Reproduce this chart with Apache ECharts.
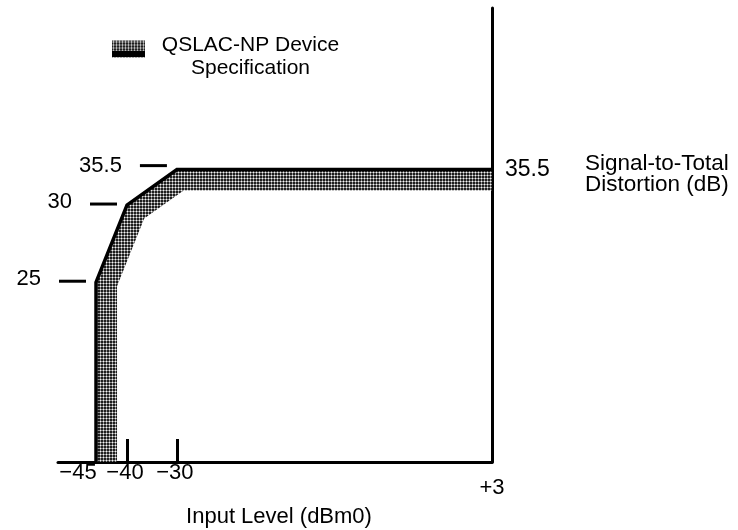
<!DOCTYPE html>
<html><head><meta charset="utf-8">
<script src="https://cdn.jsdelivr.net/npm/echarts@6/dist/echarts.min.js"></script>
<style>html,body{margin:0;padding:0;background:#fff}#c{width:738px;height:530px}</style>
</head><body><div id="c"></div>
<script>
// ---------- data ----------
const inputLevel = [-45, -40, -30, 3];     // dBm0, corners of the spec limit
const minSTD = [25, 30, 35.5, 35.5];       // dB, signal-to-total distortion limit
const xTickValues = [-45, -40, -30, 3];
const xTickText = ['\u221245', '\u221240', '\u221230', '+3'];
const xTickMarks = [-40, -30];
const leftTickValues = [25, 30, 35.5];
const leftTickText = ['25', '30', '35.5'];
const rightTickValues = [35.5];
const rightTickText = ['35.5'];
const seriesName = 'QSLAC-NP Device Specification';

// ---------- layout: the figure is not drawn to scale ----------
// where each value sits along its axis (axis runs 0..100)
const xStops = { v: [-45, -40, -30, 3], at: [8.76, 15.9, 27.4, 100] };
const yStops = { v: [0, 25, 30, 35.5], at: [0, 39.6, 56.6, 64.4] };
const FONT = 'Liberation Sans, Arial, Helvetica, sans-serif';
const FS = 22;
const BAND = 21;

function interp(s, val) {
  const v = s.v, a = s.at;
  if (val <= v[0]) return a[0] + (val - v[0]) * (a[1] - a[0]) / (v[1] - v[0]);
  for (let i = 1; i < v.length; i++) {
    if (val <= v[i]) return a[i-1] + (val - v[i-1]) * (a[i] - a[i-1]) / (v[i] - v[i-1]);
  }
  const n = v.length - 1;
  return a[n] + (val - v[n]) * (a[n] - a[n-1]) / (v[n] - v[n-1]);
}
const xPos = v => interp(xStops, v);
const yPos = v => interp(yStops, v);

function makePattern() {
  const c = document.createElement('canvas'); c.width = 3; c.height = 3;
  const ctx = c.getContext('2d');
  const img = ctx.createImageData(3, 3);
  const vals = [30, 140, 30, 140, 245, 140, 30, 140, 30];
  for (let i = 0; i < 9; i++) { img.data[i*4] = img.data[i*4+1] = img.data[i*4+2] = vals[i]; img.data[i*4+3] = 255; }
  ctx.putImageData(img, 0, 0);
  return c;
}
const hatch = { image: makePattern(), repeat: 'repeat' };

function offsetLine(P, d) {
  const n = [];
  for (let i = 0; i < P.length - 1; i++) {
    let dx = P[i+1][0] - P[i][0], dy = P[i+1][1] - P[i][1];
    const L = Math.hypot(dx, dy) || 1; dx /= L; dy /= L;
    n.push([-dy, dx]);
  }
  const Q = [];
  Q.push([P[0][0] + d*n[0][0], P[0][1] + d*n[0][1]]);
  for (let i = 1; i < P.length - 1; i++) {
    const a = n[i-1], b = n[i];
    const k = 1 + a[0]*b[0] + a[1]*b[1];
    Q.push([P[i][0] + d*(a[0]+b[0])/k, P[i][1] + d*(a[1]+b[1])/k]);
  }
  const m = n[n.length-1];
  Q.push([P[P.length-1][0] + d*m[0], P[P.length-1][1] + d*m[1]]);
  return Q;
}

const chart = echarts.init(document.getElementById('c'), null, { renderer: 'canvas' });
const option = {
  backgroundColor: '#fff',
  animation: false,
  textStyle: { fontFamily: FONT, color: '#000' },
  grid: { left: 58, right: 246, top: 8, bottom: 68, containLabel: false, outerBoundsMode: 'none' },
  legend: {
    left: 112, top: 35, padding: 0,
    itemWidth: 33, itemHeight: 17, icon: 'rect',
    selectedMode: false,
    data: [seriesName],
    formatter: () => '{a|QSLAC-NP Device}\n{b|Specification}',
    textStyle: {
      fontFamily: FONT, color: '#000', fontSize: 21, padding: [16, 0, 0, 0],
      rich: {
        a: { width: 201, align: 'center', fontSize: 21, lineHeight: 23, fontFamily: FONT },
        b: { width: 201, align: 'center', fontSize: 21, lineHeight: 23, fontFamily: FONT }
      }
    }
  },
  xAxis: {
    type: 'value', min: 0, max: 100,
    name: 'Input Level (dBm0)', nameLocation: 'middle', nameGap: 44,
    nameTextStyle: { fontSize: FS, fontFamily: FONT, color: '#000', padding: [0, 0, 0, 8] },
    axisLine: { show: true, onZero: false, lineStyle: { color: '#000', width: 3 } },
    axisTick: { show: true, inside: true, length: 23, customValues: xTickMarks.map(xPos), lineStyle: { color: '#000', width: 3 } },
    axisLabel: {
      show: true, margin: 0, customValues: xTickValues.map(xPos),
      fontSize: FS, fontFamily: FONT, color: '#000',
      formatter: (val) => {
        let bi = 0, bd = 1e9;
        xTickValues.forEach((v, i) => { const d = Math.abs(xPos(v) - val); if (d < bd) { bd = d; bi = i; } });
        const key = bi === 0 ? 'first' : (bi === xTickValues.length - 1 ? 'last' : 'mid');
        return '{' + key + '|' + xTickText[bi] + '}';
      },
      rich: {
        first: { fontSize: FS, fontFamily: FONT, padding: [0, 36, 0, 0] },
        mid: { fontSize: FS, fontFamily: FONT, padding: [0, 4, 0, 0] },
        last: { fontSize: FS, fontFamily: FONT, padding: [15, 0, 0, 0] }
      }
    },
    splitLine: { show: false }
  },
  yAxis: {
    type: 'value', min: 0, max: 100, position: 'right',
    axisLine: { show: true, onZero: false, lineStyle: { color: '#000', width: 3 } },
    axisTick: { show: false },
    axisLabel: {
      show: true, margin: 13, customValues: rightTickValues.map(yPos),
      fontSize: 23, fontFamily: FONT, color: '#000',
      formatter: (val) => {
        let bi = 0, bd = 1e9;
        rightTickValues.forEach((v, i) => { const d = Math.abs(yPos(v) - val); if (d < bd) { bd = d; bi = i; } });
        return rightTickText[bi];
      }
    },
    splitLine: { show: false }
  },
  graphic: [
    { type: 'text', left: 585, top: 152, style: { text: 'Signal-to-Total\nDistortion (dB)', fontSize: 22.5, lineHeight: 21, fontFamily: FONT, fill: '#000' } },
    { type: 'rect', z: 100, shape: { x: 112, y: 51, width: 33, height: 6 }, style: { fill: '#000' } }
  ],
  series: [{
    type: 'custom', name: seriesName, coordinateSystem: 'cartesian2d',
    itemStyle: { color: hatch },
    data: inputLevel.map((x, i) => [xPos(x), yPos(minSTD[i])]),
    encode: { x: 0, y: 1 },
    renderItem: function (params, api) {
      if (params.dataIndex !== 0) return null;
      const pts = [api.coord([xPos(inputLevel[0]), yPos(yStops.v[0])])];
      inputLevel.forEach((x, i) => pts.push(api.coord([xPos(x), yPos(minSTD[i])])));
      const inner = offsetLine(pts, BAND);
      const poly = pts.concat(inner.slice().reverse());
      const children = [
        { type: 'polygon', shape: { points: poly }, style: { fill: hatch, stroke: null } },
        { type: 'polyline', shape: { points: pts }, style: { stroke: '#000', lineWidth: 3.5, fill: null, lineJoin: 'miter' } }
      ];
      leftTickValues.forEach((v, k) => {
        const idx = minSTD.indexOf(v);
        const p = api.coord([xPos(inputLevel[idx]), yPos(v)]);
        const x1 = p[0] - 10, x0 = x1 - 27, y = p[1] - (k === leftTickValues.length - 1 ? 4 : 1);
        children.push({ type: 'line', shape: { x1: x0, y1: y, x2: x1, y2: y }, style: { stroke: '#000', lineWidth: 3 } });
        children.push({ type: 'text', x: x0 - 18, y: y - (k === leftTickValues.length - 1 ? 0 : 2), style: { text: leftTickText[k], fontSize: FS, fontFamily: FONT, fill: '#000', align: 'right', verticalAlign: 'middle' } });
      });
      return { type: 'group', children: children };
    }
  }]
};
chart.setOption(option);
</script>
</body></html>
